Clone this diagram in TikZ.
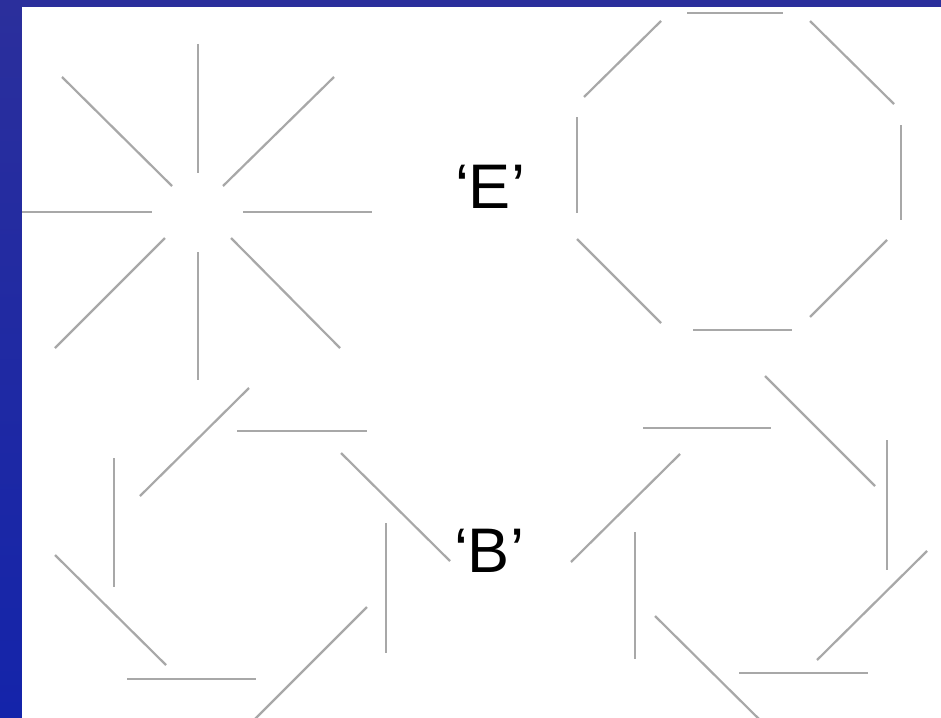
\documentclass[tikz,border=0pt]{standalone}
\usepackage{fontspec}
\setmainfont{Liberation Sans}
\usetikzlibrary{positioning}
\definecolor{frameTop}{RGB}{43,47,156}
\definecolor{frameBottom}{RGB}{20,36,170}
\definecolor{barGray}{RGB}{168,168,168}
\begin{document}
\begin{tikzpicture}[
    x=1pt, y=-1pt,
    bar/.style={draw=barGray, line width=2.2pt},
    letter/.style={font=\fontsize{63}{70}\selectfont, anchor=base, inner sep=0pt},
]
\useasboundingbox (0,0) rectangle (941,717);
% Frame
\shade[top color=frameTop, bottom color=frameBottom] (0,0) rectangle (941,717);
\fill[white] (22,7) rectangle (946,722);
\begin{scope}
\clip (22,7) rectangle (946,722);
% Star, top left
\draw[bar] (198,44) -- (198,173);
\draw[bar] (198,252) -- (198,380);
\draw[bar] (22,212) -- (152,212);
\draw[bar] (243,212) -- (372,212);
\draw[bar] (62,77) -- (172,186);
\draw[bar] (223,186) -- (334,77);
\draw[bar] (165,238) -- (55,348);
\draw[bar] (231,238) -- (340,348);
% Octagon, top right
\draw[bar] (687,13) -- (783,13);
\draw[bar] (661,21) -- (584,97);
\draw[bar] (810,21) -- (894,104);
\draw[bar] (577,117) -- (577,213);
\draw[bar] (901,125) -- (901,220);
\draw[bar] (577,239) -- (661,323);
\draw[bar] (693,330) -- (792,330);
\draw[bar] (887,240) -- (810,317);
% Pinwheel, bottom left
\draw[bar] (249,388) -- (140,496);
\draw[bar] (237,431) -- (367,431);
\draw[bar] (341,453) -- (450,561);
\draw[bar] (114,458) -- (114,587);
\draw[bar] (386,523) -- (386,653);
\draw[bar] (55,555) -- (166,665);
\draw[bar] (127,679) -- (256,679);
\draw[bar] (367,607) -- (252,722);
% Pinwheel, bottom right
\draw[bar] (643,428) -- (771,428);
\draw[bar] (765,376) -- (875,486);
\draw[bar] (680,454) -- (571,562);
\draw[bar] (887,440) -- (887,570);
\draw[bar] (635,532) -- (635,659);
\draw[bar] (927,551) -- (817,660);
\draw[bar] (739,673) -- (868,673);
\draw[bar] (655,616) -- (762,722);
\end{scope}
% Labels
\node[letter] (labelE) at (490,208) {‘E’};
\node[letter] (labelB) at (489,572) {‘B’};
\end{tikzpicture}
\end{document}
